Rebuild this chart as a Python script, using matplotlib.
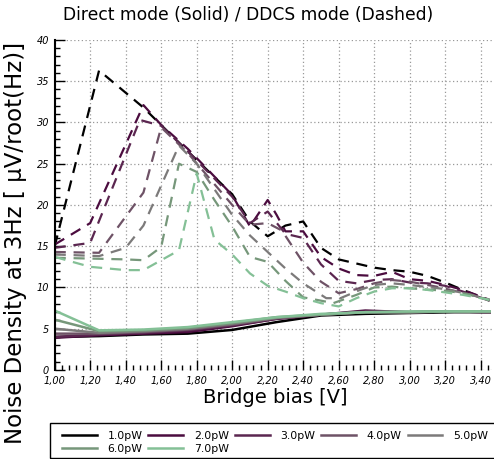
import matplotlib
matplotlib.use("Agg")
import matplotlib.pyplot as plt
from matplotlib.patches import Rectangle
from matplotlib.ticker import MultipleLocator, FuncFormatter

# power levels and line colours
powers = ["1.0pW", "2.0pW", "3.0pW", "4.0pW", "5.0pW", "6.0pW", "7.0pW"]
colors = ["#000000", "#4b0c3f", "#5b2650", "#6e5266", "#7c7a7a", "#76977a", "#84c096"]

# Direct mode (solid)
solid_x = [1.0, 1.25, 1.5, 1.75, 2.0, 2.25, 2.5, 2.75, 3.0, 3.25, 3.45]
solid_1 = [4.0, 4.1, 4.3, 4.4, 4.85, 5.8, 6.6, 6.8, 6.9, 7.0, 7.0]
solid_2 = [3.9, 4.2, 4.4, 4.6, 5.3, 6.2, 6.7, 7.2, 7.0, 7.1, 7.0]
solid_3 = [4.0, 4.3, 4.5, 4.8, 5.4, 6.2, 6.7, 7.1, 7.0, 7.1, 7.0]
solid_4 = [4.4, 4.4, 4.6, 4.9, 5.5, 6.3, 6.7, 7.0, 7.0, 7.1, 7.0]
solid_5 = [5.0, 4.5, 4.7, 5.0, 5.6, 6.3, 6.7, 7.0, 7.0, 7.1, 7.0]
solid_6 = [6.1, 4.7, 4.8, 5.1, 5.7, 6.4, 6.7, 7.0, 7.0, 7.1, 7.1]
solid_7 = [7.2, 4.8, 4.9, 5.2, 5.8, 6.4, 6.8, 7.0, 7.1, 7.1, 7.1]

# DDCS mode (dashed)
ddcs_x1 = [1.0, 1.25, 1.5, 1.75, 2.0, 2.1, 2.2, 2.3, 2.4, 2.5, 2.6, 2.7, 2.8, 2.9, 3.0, 3.1, 3.2, 3.3, 3.45]
ddcs_1 = [15.0, 36.3, 31.8, 26.5, 21.3, 18.0, 16.2, 17.5, 18.0, 14.8, 13.4, 12.9, 12.4, 12.1, 11.9, 11.4, 10.6, 9.7, 8.4]
ddcs_x2 = [1.0, 1.2, 1.5, 1.6, 1.75, 2.0, 2.1, 2.2, 2.25, 2.3, 2.4, 2.5, 2.6, 2.7, 2.8, 2.9, 3.0, 3.1, 3.2, 3.3, 3.45]
ddcs_2 = [15.2, 17.8, 32.1, 29.7, 26.8, 21.2, 17.4, 20.6, 18.8, 16.8, 16.8, 13.7, 12.3, 11.5, 11.4, 11.9, 11.0, 10.8, 10.3, 9.7, 8.5]
ddcs_x3 = [1.0, 1.2, 1.48, 1.6, 1.75, 2.0, 2.1, 2.2, 2.3, 2.4, 2.5, 2.6, 2.7, 2.8, 2.9, 3.0, 3.1, 3.2, 3.3, 3.45]
ddcs_3 = [14.8, 15.4, 30.3, 29.6, 26.5, 21.0, 17.8, 19.2, 16.5, 16.0, 12.8, 10.8, 10.5, 10.9, 11.0, 10.6, 10.5, 10.2, 9.5, 8.4]
ddcs_x4 = [1.0, 1.25, 1.5, 1.6, 1.75, 2.0, 2.1, 2.2, 2.28, 2.4, 2.5, 2.6, 2.7, 2.8, 2.9, 3.0, 3.15, 3.35, 3.45]
ddcs_4 = [14.3, 14.2, 21.5, 29.4, 26.3, 20.0, 17.6, 17.8, 16.9, 13.0, 10.7, 9.3, 9.8, 10.5, 10.9, 10.7, 10.1, 9.1, 8.4]
ddcs_x5 = [1.0, 1.25, 1.4, 1.5, 1.7, 1.8, 2.0, 2.1, 2.2, 2.3, 2.4, 2.53, 2.61, 2.72, 2.8, 2.9, 3.0, 3.2, 3.35, 3.45]
ddcs_5 = [14.0, 13.8, 14.8, 17.5, 27.2, 25.0, 18.8, 16.3, 14.3, 12.3, 10.5, 8.7, 8.7, 9.7, 10.3, 10.5, 10.3, 9.8, 9.1, 8.4]
ddcs_x6 = [1.0, 1.2, 1.4, 1.5, 1.6, 1.7, 1.8, 1.9, 2.0, 2.1, 2.2, 2.3, 2.4, 2.5, 2.57, 2.7, 2.8, 2.9, 3.0, 3.2, 3.3, 3.45]
ddcs_6 = [13.6, 13.5, 13.4, 13.3, 14.9, 25.0, 24.0, 20.6, 17.4, 13.7, 13.1, 10.8, 8.8, 8.4, 8.1, 9.1, 10.0, 10.1, 9.9, 9.6, 9.3, 8.5]
ddcs_x7 = [1.0, 1.2, 1.4, 1.5, 1.6, 1.7, 1.8, 1.9, 2.0, 2.1, 2.2, 2.3, 2.4, 2.5, 2.6, 2.7, 2.8, 2.9, 3.0, 3.1, 3.3, 3.45]
ddcs_7 = [13.7, 12.5, 12.1, 12.1, 13.3, 14.5, 23.8, 15.8, 14.0, 11.7, 10.2, 9.5, 8.7, 8.1, 7.7, 8.7, 9.5, 9.9, 9.9, 9.7, 9.1, 8.5]

solid_ys = [solid_1, solid_2, solid_3, solid_4, solid_5, solid_6, solid_7]
ddcs_xs = [ddcs_x1, ddcs_x2, ddcs_x3, ddcs_x4, ddcs_x5, ddcs_x6, ddcs_x7]
ddcs_ys = [ddcs_1, ddcs_2, ddcs_3, ddcs_4, ddcs_5, ddcs_6, ddcs_7]

fig = plt.figure(figsize=(4.94, 4.59), dpi=100)
ax = fig.add_axes([0.1107, 0.194, 0.8893, 0.719])

handles = []
for i in range(len(powers)):
    h, = ax.plot(solid_x, solid_ys[i], color=colors[i], lw=1.8, label=powers[i])
    handles.append(h)
for i in range(len(powers)):
    ax.plot(ddcs_xs[i], ddcs_ys[i], color=colors[i], lw=1.6, dashes=(5, 3.5))

ax.set_xlim(1.0, 3.475)
ax.set_ylim(0, 40)
ax.xaxis.set_major_locator(MultipleLocator(0.2))
ax.xaxis.set_minor_locator(MultipleLocator(0.04))
ax.yaxis.set_major_locator(MultipleLocator(5))
ax.yaxis.set_minor_locator(MultipleLocator(1))
ax.xaxis.set_major_formatter(FuncFormatter(lambda v, p: ("%.2f" % v).replace(".", ",")))
ax.tick_params(which="both", direction="in", width=1, labelsize=7, pad=4)
ax.tick_params(which="major", length=7)
ax.tick_params(which="minor", length=3.5)
for lab in ax.get_xticklabels() + ax.get_yticklabels():
    lab.set_fontstyle("italic")

ax.grid(True, which="major", color="#999999", linestyle=(0, (1, 2)), lw=0.9)
for s in ["top", "right", "bottom"]:
    ax.spines[s].set_visible(False)
ax.spines["left"].set_linewidth(1.5)

fig.text(0.503, 0.968, "Direct mode (Solid) / DDCS mode (Dashed)", ha="center", va="center", fontsize=12.3)
fig.text(0.557, 0.133, "Bridge bias [V]", ha="center", va="center", fontsize=14)
fig.text(0.032, 0.47, "Noise Density at 3Hz [ \u03bcV/root(Hz)]", rotation=90, ha="center", va="center", fontsize=16.5)

# legend box drawn by hand, runs off the right edge like the original
fig.patches.append(Rectangle((0.101, 0.003), 0.92, 0.075, transform=fig.transFigure,
                             fill=False, edgecolor="black", lw=1.0))

# row-major order for a 5-column legend
order = [0, 5, 1, 6, 2, 3, 4]
leg = fig.legend([handles[k] for k in order], [powers[k] for k in order],
                 loc="upper left", bbox_to_anchor=(0.1255, 0.061),
                 ncol=5, fontsize=7.8, handlelength=3.2, handletextpad=1.0, columnspacing=0.55,
                 frameon=False, borderpad=0, labelspacing=0.3, borderaxespad=0)

fig.savefig("out.png", dpi=100)
